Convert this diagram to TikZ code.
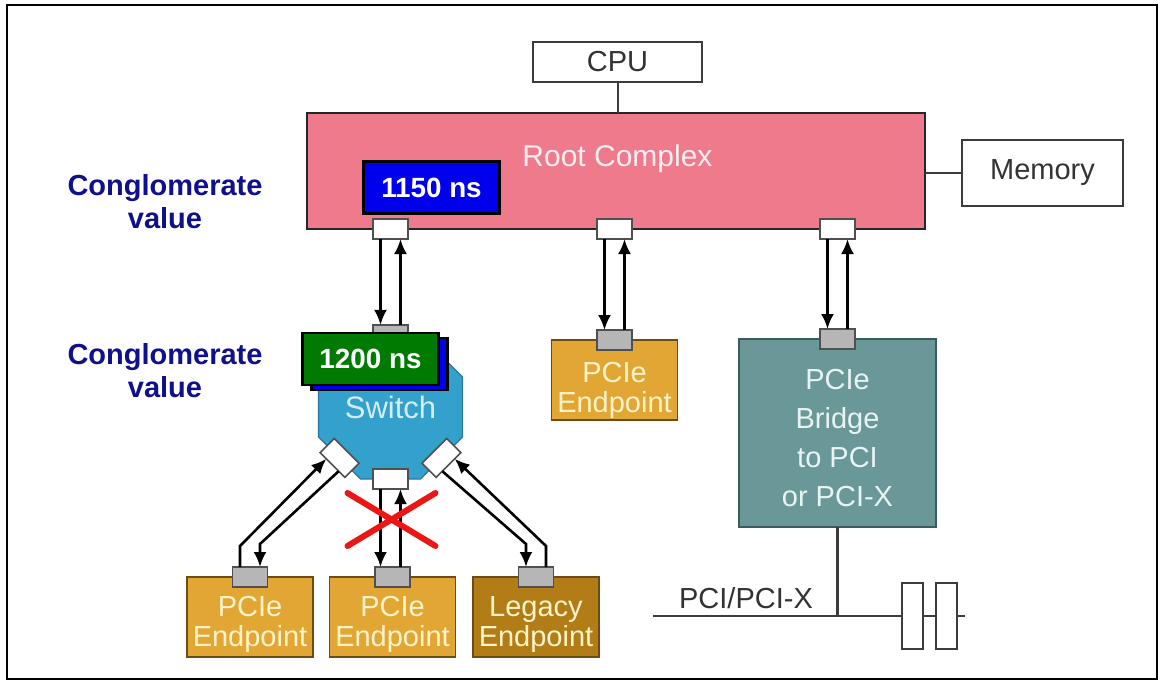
\documentclass[tikz,border=0pt]{standalone}
\usepackage{fontspec}
\setmainfont{Liberation Sans}
\usepackage{tikz}
\usetikzlibrary{arrows.meta,positioning,calc,shapes.geometric}
\definecolor{rootpink}{RGB}{238,122,140}
\definecolor{boxgray}{RGB}{60,60,60}
\definecolor{portgray}{RGB}{182,182,182}
\definecolor{portline}{RGB}{80,80,80}
\definecolor{epfill}{RGB}{226,166,52}
\definecolor{legfill}{RGB}{178,125,22}
\definecolor{epline}{RGB}{110,75,20}
\definecolor{eptext}{RGB}{255,244,200}
\definecolor{brfill}{RGB}{106,152,152}
\definecolor{brline}{RGB}{60,92,92}
\definecolor{brtext}{RGB}{232,244,244}
\definecolor{swfill}{RGB}{52,160,204}
\definecolor{swline}{RGB}{40,118,160}
\definecolor{swtext}{RGB}{212,236,248}
\definecolor{nsblue}{RGB}{0,0,236}
\definecolor{nsgreen}{RGB}{0,122,0}
\definecolor{navy}{RGB}{16,16,140}
\definecolor{crossred}{RGB}{236,22,22}
\newcommand{\txtdrop}[1]{\rule{0pt}{#1}}

\begin{document}
\begin{tikzpicture}[x=0.5pt, y=-0.5pt,
  every node/.style={inner sep=0pt, outer sep=0pt},
  plainbox/.style={draw=boxgray, line width=1pt, fill=white, text=black!80,
    font=\fontsize{14.5}{17}\selectfont},
  port/.style={draw=portline, line width=0.8pt, fill=white,
    minimum width=17.5pt, minimum height=10pt},
  gport/.style={port, fill=portgray},
  epbox/.style={draw=epline, line width=0.8pt, fill=epfill, align=center,
    minimum width=63pt, minimum height=40pt, text=eptext,
    font=\fontsize{14.5}{15}\selectfont},
  nsbox/.style={draw=black, line width=1.2pt, minimum width=68pt,
    minimum height=26pt, text=white, font=\bfseries\fontsize{13.9}{16}\selectfont},
  cong/.style={align=center, text=navy, font=\bfseries\fontsize{14.5}{16.5}\selectfont},
  arr/.style={-{Latex[length=7.5pt,width=6.5pt]}, line width=1.3pt},
  conn/.style={draw=boxgray, line width=1pt},
  cross/.style={crossred, line width=3pt, line cap=round}
]
\useasboundingbox (0,0) rectangle (1163,686);
\draw[line width=1.3pt] (7,5) rectangle (1157,679);

\node[plainbox, minimum width=84.5pt, minimum height=20pt] (cpu) at (617.5,62) {CPU};
\node[draw=black!85, line width=1pt, fill=rootpink, minimum width=309pt,
  minimum height=58pt] (root) at (616,171) {};
\node[text=white!88!rootpink, font=\fontsize{15}{17}\selectfont] (rc) at (617.5,159) {Root Complex};
\node[plainbox, minimum width=80.5pt, minimum height=33pt] (mem) at (1042.5,173) {Memory};
\draw[conn] (cpu.south) -- (cpu.south |- root.north);
\draw[conn] (root.east |- mem.west) -- (mem.west);

\node[cong] (c1) at (165,201.5) {Conglomerate\\value};
\node[cong] (c2) at (165,371) {Conglomerate\\value};

\node[shape=regular polygon, regular polygon sides=8, minimum size=78pt,
  draw=swline, line width=0.6pt, fill=swfill, text=swtext,
  font=\fontsize{15.5}{18}\selectfont] (sw) at (390.5,407) {Switch};
\node[gport] (swT) at (sw.north) {};
\node[port] (swB) at (sw.south) {};
\node[port, rotate=-45] (swL) at (sw.225) {};
\node[port, rotate=45] (swR) at (sw.-45) {};

\node[epbox] (epM) at (614.5,380) {\txtdrop{20.4pt}PCIe\\Endpoint};
\node[draw=brline, line width=0.8pt, fill=brfill, align=center, text=brtext,
  minimum width=98.5pt, minimum height=94pt,
  font=\fontsize{14.5}{19.5}\selectfont] (br) at (837.5,433) {\txtdrop{15.4pt}PCIe\\Bridge\\to PCI\\or PCI-X};
\node[gport] (epMp) at (epM.north) {};
\node[gport] (brp) at (br.north) {};

\node[port] (rp1) at (sw |- root.south) {};
\node[port] (rp2) at (epM |- root.south) {};
\node[port] (rp3) at (br |- root.south) {};
\node[nsbox, fill=nsblue] (t1) at (431.5,187.5) {1150 ns};

\node[epbox] (ep1) at (250,617) {\txtdrop{17.4pt}PCIe\\Endpoint};
\node[epbox] (ep2) at (392.5,617) {\txtdrop{17.4pt}PCIe\\Endpoint};
\node[epbox, fill=legfill] (ep3) at (536,617) {\txtdrop{17.4pt}Legacy\\Endpoint};
\node[gport] (ep1p) at (ep1.north) {};
\node[gport] (ep2p) at (ep2.north) {};
\node[gport] (ep3p) at (ep3.north) {};

\draw[arr] ($(rp1.south)+(-10,0)$) -- ($(swT.north)+(-10,0)$);
\draw[arr] ($(swT.north)+(10,0)$) -- ($(rp1.south)+(10,0)$);
\draw[arr] ($(rp2.south)+(-10,0)$) -- ($(epMp.north)+(-10,0)$);
\draw[arr] ($(epMp.north)+(10,0)$) -- ($(rp2.south)+(10,0)$);
\draw[arr] ($(rp3.south)+(-10,0)$) -- ($(brp.north)+(-10,0)$);
\draw[arr] ($(brp.north)+(10,0)$) -- ($(rp3.south)+(10,0)$);

\coordinate (d1) at ($(swB.south)+(-10,0)$);
\coordinate (u1) at ($(swB.south)+(10,0)$);
\draw[arr] (d1) -- (d1 |- ep2p.north);
\draw[arr] (u1 |- ep2p.north) -- (u1);
\draw[arr] ($(ep1p.north)+(-10,0)$) -- ++(0,-21) -- ($(swL.south west)!.25!(swL.south east)$);
\draw[arr] ($(swL.south west)!.75!(swL.south east)$) -- ($(ep1p.north)+(10,0)+(0,-23)$) -- ($(ep1p.north)+(10,0)$);
\draw[arr] ($(swR.south west)!.25!(swR.south east)$) -- ($(ep3p.north)+(-10,0)+(0,-23)$) -- ($(ep3p.north)+(-10,0)$);
\draw[arr] ($(ep3p.north)+(10,0)$) -- ++(0,-21) -- ($(swR.south west)!.75!(swR.south east)$);

\node[nsbox, fill=nsblue] (t2s) at (379.5,364) {};
\node[nsbox, fill=nsgreen] (t2) at (370.5,359) {1200 ns};

\coordinate (x0) at (391.5,519.5);
\draw[cross] ($(x0)+(-44,-26.5)$) -- ($(x0)+(44,26.5)$);
\draw[cross] ($(x0)+(44,-26.5)$) -- ($(x0)+(-44,26.5)$);

\coordinate (busL) at (653,616);
\coordinate (busR) at (965,616);
\draw[conn, line width=1.2pt] (busL) -- (busR);
\draw[conn, line width=1.2pt] (br.south) -- (br.south |- busL);
\node[font=\fontsize{14.5}{17}\selectfont, text=black!80] (pci) at (746,598) {PCI/PCI-X};
\node[draw=boxgray, line width=0.8pt, fill=white, minimum width=10.5pt,
  minimum height=33pt] (slot1) at (912.5,616) {};
\node[draw=boxgray, line width=0.8pt, fill=white, minimum width=10.5pt,
  minimum height=33pt] (slot2) at (946.5,616) {};
\end{tikzpicture}
\end{document}
